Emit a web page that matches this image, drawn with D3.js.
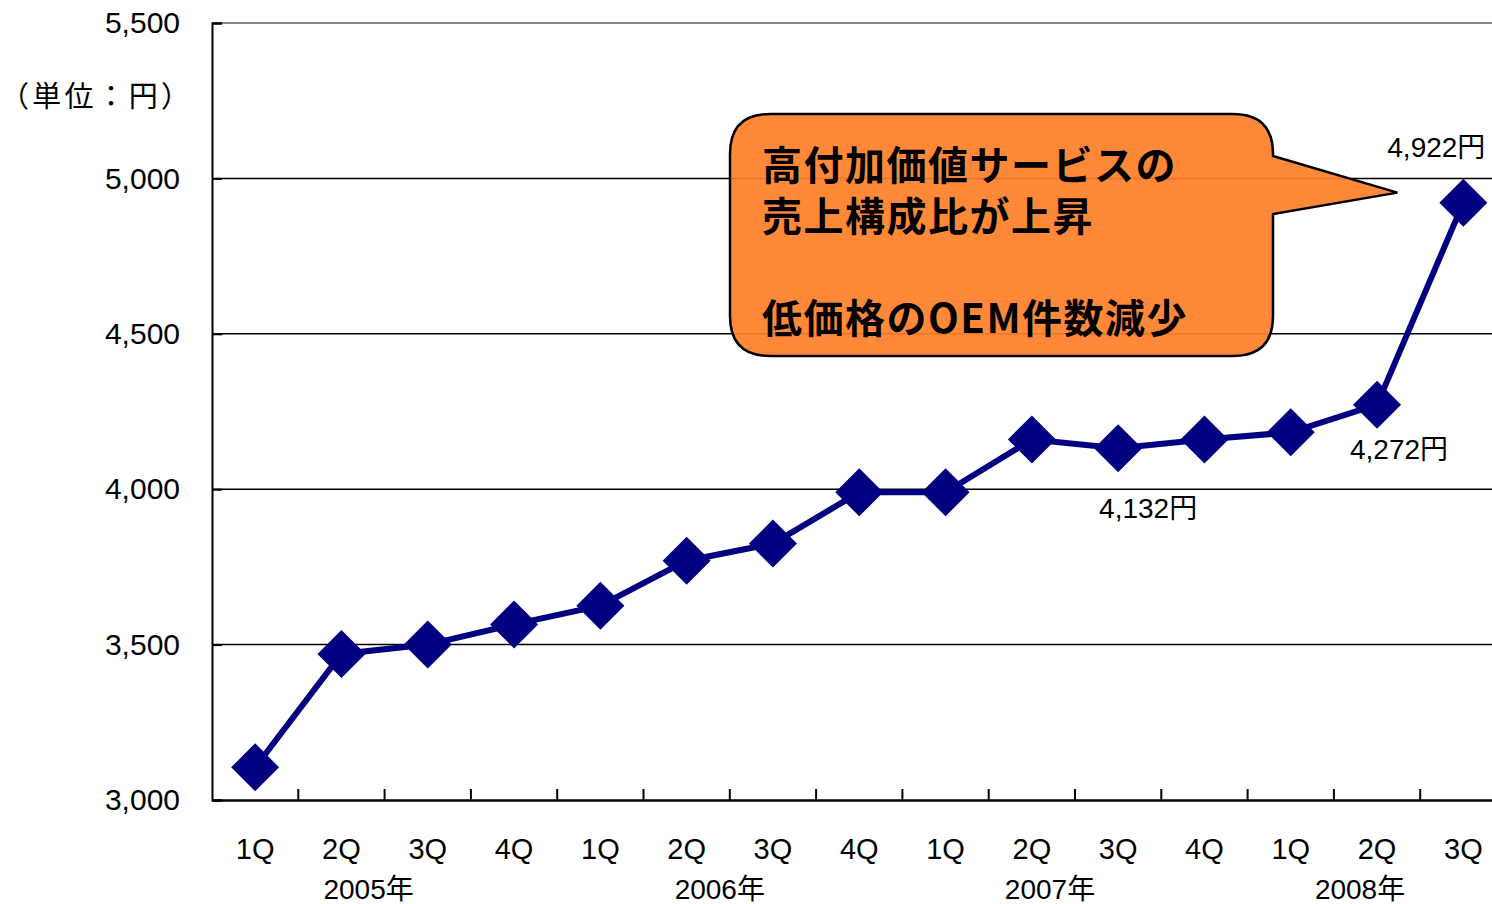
<!DOCTYPE html>
<html><head><meta charset="utf-8">
<script src="https://cdn.jsdelivr.net/npm/d3@7/dist/d3.min.js"></script>
<style>
html,body{margin:0;padding:0;background:#fff;}
svg text{font-family:"Liberation Sans","Noto Sans CJK JP",sans-serif;}
</style></head>
<body>
<svg id="chart" width="1492" height="904"></svg>
<script>
const quarters = ["1Q","2Q","3Q","4Q","1Q","2Q","3Q","4Q","1Q","2Q","3Q","4Q","1Q","2Q","3Q"];
const values = [3105, 3470, 3500, 3565, 3625, 3770, 3825, 3990, 3990, 4160, 4132, 4160, 4183, 4272, 4922];
const years = ["2005年","2006年","2007年","2008年"];
const yearStart = [0, 4, 8, 12];
const yearCount = [4, 4, 4, 3];
const yTicks = [3000, 3500, 4000, 4500, 5000, 5500];
const labeled = [
  {i: 10, text: "4,132円"},
  {i: 13, text: "4,272円"},
  {i: 14, text: "4,922円"}
];
const unitLabel = "（単位：円）";
const calloutLines = ["高付加価値サービスの", "売上構成比が上昇", "", "低価格のOEM件数減少"];

(function () {
const svg = d3.select("#chart");
const pLeft = 212, pTop = 23, pBottom = 800, step = 86.3;
const x = d3.scaleBand().domain(d3.range(quarters.length)).range([pLeft, pLeft + step * quarters.length]).padding(0);
const y = d3.scaleLinear().domain([3000, 5500]).range([pBottom, pTop]);
const cx = i => x(i) + x.bandwidth() / 2;
const yearShift = [-16, -10, -25, -17];

// gridlines
svg.append("g").selectAll("line").data(yTicks.filter(v => v > 3000)).join("line")
  .attr("x1", pLeft).attr("x2", 1492)
  .attr("y1", d => y(d)).attr("y2", d => y(d))
  .attr("stroke", d => d === 5500 ? "#888" : "#000")
  .attr("stroke-width", d => d === 5500 ? 2 : 1.5);

// y axis
const yAxis = d3.axisLeft(y).tickValues(yTicks).tickSize(-10).tickPadding(32)
  .tickFormat(d3.format(","));
const gy = svg.append("g").attr("transform", `translate(${pLeft},0)`).call(yAxis);
gy.select(".domain").attr("stroke", "#000").attr("stroke-width", 2);
gy.selectAll(".tick line").attr("stroke", "#000").attr("stroke-width", 2);
gy.selectAll("text").attr("font-size", 30).attr("fill", "#000");

// x axis
const xAxis = d3.axisBottom(x).tickSize(0).tickFormat(i => quarters[i]).tickPadding(38);
const gx = svg.append("g").attr("transform", `translate(0,${pBottom})`).call(xAxis);
gx.select(".domain").attr("stroke", "#000").attr("stroke-width", 2.5);
gx.selectAll("text").attr("font-size", 29).attr("fill", "#000");
// boundary ticks (inward)
svg.append("g").selectAll("line").data(d3.range(1, quarters.length)).join("line")
  .attr("x1", i => x(i)).attr("x2", i => x(i))
  .attr("y1", pBottom).attr("y2", pBottom - 11)
  .attr("stroke", "#000").attr("stroke-width", 2);

// year labels
svg.append("g").selectAll("text").data(years).join("text")
  .attr("x", (d, k) => (x(yearStart[k]) + x(yearStart[k] + yearCount[k] - 1) + x.bandwidth()) / 2 + yearShift[k])
  .attr("y", 899)
  .attr("text-anchor", "middle").attr("font-size", 28).attr("fill", "#000")
  .text(d => d);

// unit label
svg.append("text").attr("x", 0).attr("y", 107).attr("font-size", 29).attr("fill", "#000")
  .attr("textLength", 190).attr("lengthAdjust", "spacing")
  .style("font-family", "'Noto Sans CJK JP',sans-serif").text(unitLabel);

// callout
const bx = 730, by = 114, bw = 543, bh = 242, r = 40;
const tipX = cx(14) - 66, tipY = y(values[14]) - 10;
const p1 = by + 42, p2 = by + 100;
const path = `M${bx + r},${by} H${bx + bw - r} Q${bx + bw},${by} ${bx + bw},${by + r}
 V${p1} L${tipX},${tipY} L${bx + bw},${p2} V${by + bh - r} Q${bx + bw},${by + bh} ${bx + bw - r},${by + bh}
 H${bx + r} Q${bx},${by + bh} ${bx},${by + bh - r} V${by + r} Q${bx},${by} ${bx + r},${by} Z`;
svg.append("path").attr("d", path).attr("fill", "#ff7f27").attr("fill-opacity", 0.92)
  .attr("stroke", "#000").attr("stroke-width", 2.5);
const ct = svg.append("text")
  .attr("font-size", 40).attr("font-weight", "bold").attr("fill", "#000")
  .attr("letter-spacing", 1.5)
  .style("font-family", "'Noto Sans CJK JP',sans-serif");
ct.selectAll("tspan").data(calloutLines).join("tspan")
  .attr("x", 762).attr("y", (d, k) => 180 + k * 51)
  .text(d => d);

// line
svg.append("path").datum(values)
  .attr("d", d3.line().x((d, i) => cx(i)).y(d => y(d)))
  .attr("fill", "none").attr("stroke", "#000080").attr("stroke-width", 6);

// markers
svg.append("g").selectAll("path").data(values).join("path")
  .attr("transform", (d, i) => `translate(${cx(i)},${y(d)})`)
  .attr("d", "M0,-24 L24,0 L0,24 L-24,0 Z")
  .attr("fill", "#000080");

// data labels
const off = {10: [30, 70], 13: [22, 54], 14: [-27, -46]};
svg.append("g").selectAll("text").data(labeled).join("text")
  .attr("x", d => cx(d.i) + off[d.i][0])
  .attr("y", d => y(values[d.i]) + off[d.i][1])
  .attr("text-anchor", "middle").attr("font-size", 28).attr("fill", "#000")
  .text(d => d.text);
})();
</script>
</body></html>
